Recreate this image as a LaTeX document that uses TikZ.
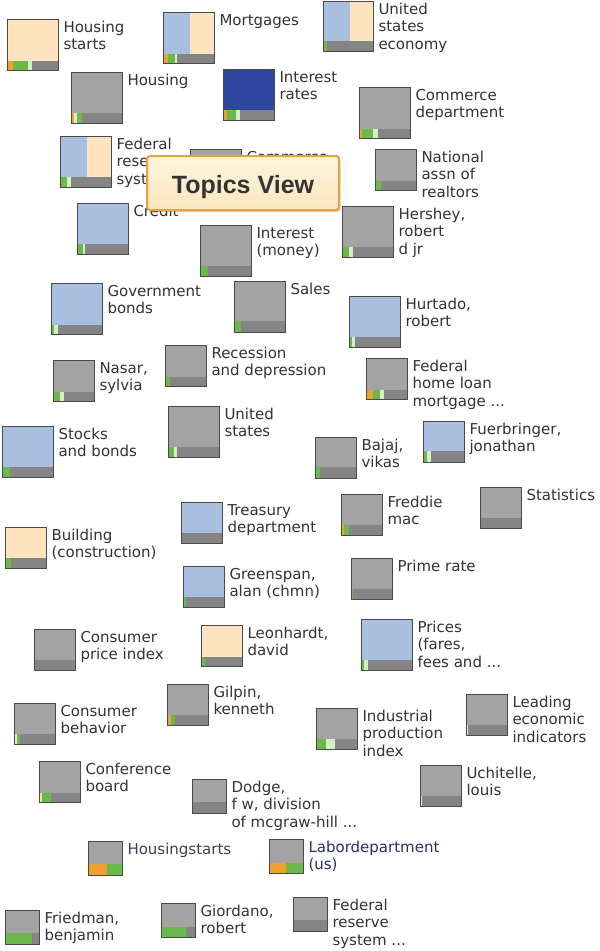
\documentclass[tikz,border=0pt]{standalone}
\usepackage{fontspec}
\setmainfont{DejaVu Sans}
\newfontfamily\tvfont{Liberation Sans}
\usetikzlibrary{shadows}
\definecolor{tgray}{HTML}{A3A3A3}
\definecolor{stripc}{HTML}{858585}
\definecolor{tborder}{HTML}{4A4A4A}
\definecolor{tblue}{HTML}{A9BFE0}
\definecolor{tbeige}{HTML}{FDE4BF}
\definecolor{tdark}{HTML}{2D46A0}
\definecolor{sor}{HTML}{F0A033}
\definecolor{sgr}{HTML}{6CB94B}
\definecolor{slg}{HTML}{D5EEC2}
\definecolor{syl}{HTML}{E9E6A0}
\definecolor{txt}{HTML}{333333}
\definecolor{tvborder}{HTML}{E8A23C}
\definecolor{tvtop}{HTML}{FEF5DE}
\definecolor{tvbot}{HTML}{FBE6BC}
\tikzset{
  tilebox/.style={inner sep=0pt, outer sep=0pt, draw=none},
  tg/.style={fill=tgray},
  tb/.style={fill=tblue},
  tbe/.style={fill=tbeige},
  tdb/.style={fill=tdark},
  tsplit/.style={fill=tblue, path picture={\fill[tbeige] ([xshift=1.5pt]path picture bounding box.north) rectangle (path picture bounding box.south east);}},
  tileborder/.style={draw=tborder, line width=0.9pt},
  lbl/.style={anchor=north west, inner sep=0pt, outer sep=0pt, align=left, text=txt, font=\fontsize{15}{17.5}\selectfont},
  topicsbox/.style={draw=tvborder, line width=2pt, rounded corners=3pt, top color=tvtop, bottom color=tvbot,
    drop shadow={shadow xshift=1.5pt, shadow yshift=-2pt, opacity=0.3, fill=black!60}},
}
% #1 name, #2 left, #3 top, #4 size, #5 fill style, #6 strip height, #7 segments, #8 label
\newcommand\tl[8]{%
  \node[tilebox, minimum size=#4, #5] (#1) at ({#2+#4/2},{#3+#4/2}) {};
  \fill[stripc] (#2,{#3+#4-#6}) rectangle ({#2+#4},{#3+#4});
  \foreach \cl/\w [remember=\xe as \xs (initially #2), evaluate=\w as \xe using \xs+\w] in {#7}
    {\fill[\cl] (\xs,{#3+#4-#6}) rectangle (\xe,{#3+#4});}
  \draw[tileborder] (#1.south west) rectangle (#1.north east);
  \node[lbl] (#1-t) at ([shift={(5.5,1.2)}]#1.north east) {\strut #8};
}
\begin{document}
\begin{tikzpicture}[x=1pt,y=-1pt]
\useasboundingbox[fill=white] (0,0) rectangle (600,951);
\tl{hs}{7}{19}{51}{tbe}{9}{sor/6,sgr/15,slg/4}{Housing\\starts}
\tl{mort}{163}{12}{51}{tsplit}{9}{sor/5,sgr/7,slg/2}{Mortgages}
\tl{use}{323}{1}{50}{tsplit}{10}{sgr/4}{United\\states\\economy}
\tl{hou}{71}{72}{51}{tg}{10}{sor/3,slg/3,sgr/5}{Housing}
\tl{ir}{223}{69}{51}{tdb}{10}{sor/4,sgr/9,slg/4}{Interest\\rates}
\tl{cd}{359}{87}{51}{tg}{9}{sor/3,sgr/11,slg/5}{Commerce\\department}
\tl{frs}{60}{136}{51}{tsplit}{10}{sgr/7,slg/4}{Federal\\reserve\\system}
\tl{com}{190}{149}{51}{tg}{10}{sgr/5}{Commerce}
\tl{nar}{375}{149}{41}{tg}{9}{sgr/6}{National\\assn of\\realtors}
\tl{cr}{77}{203}{51}{tb}{10}{sgr/6,slg/2}{Credit}
\tl{hsh}{342}{206}{51}{tg}{10}{sgr/7,slg/4}{Hershey,\\robert\\d jr}
\tl{im}{200}{225}{51}{tg}{10}{sgr/8}{Interest\\(money)}
\tl{gb}{51}{283}{51}{tb}{9}{sgr/3,slg/4}{Government\\bonds}
\tl{sal}{234}{281}{51}{tg}{11}{sgr/7}{Sales}
\tl{hur}{349}{296}{51}{tb}{10}{sgr/3,slg/3}{Hurtado,\\robert}
\tl{nas}{53}{360}{41}{tg}{9}{sgr/7,slg/4}{Nasar,\\sylvia}
\tl{rec}{165}{345}{41}{tg}{9}{sgr/5}{Recession\\and depression}
\tl{fhl}{366}{358}{41}{tg}{9}{sor/7,sgr/7,slg/4}{Federal\\home loan\\mortgage ...}
\tl{us}{168}{406}{51}{tg}{10}{sgr/6,slg/3}{United\\states}
\tl{sb}{2}{426}{51}{tb}{10}{sgr/8}{Stocks\\and bonds}
\tl{baj}{315}{437}{41}{tg}{11}{sgr/5}{Bajaj,\\vikas}
\tl{fue}{423}{421}{41}{tb}{11}{sgr/4,slg/4}{Fuerbringer,\\jonathan}
\tl{stat}{480}{487}{41}{tg}{10}{stripc/0}{Statistics}
\tl{tre}{181}{502}{41}{tb}{10}{stripc/0}{Treasury\\department}
\tl{fm}{341}{494}{41}{tg}{10}{sor/3,sgr/5}{Freddie\\mac}
\tl{bld}{5}{527}{41}{tbe}{10}{sgr/6}{Building\\(construction)}
\tl{pr}{351}{558}{41}{tg}{10}{sgr/2}{Prime rate}
\tl{grn}{183}{566}{41}{tb}{10}{sgr/3}{Greenspan,\\alan (chmn)}
\tl{cpi}{34}{629}{41}{tg}{10}{stripc/0}{Consumer\\price index}
\tl{leo}{201}{625}{41}{tbe}{9}{sgr/4}{Leonhardt,\\david}
\tl{pri}{361}{619}{51}{tb}{10}{sgr/3,slg/4}{Prices\\(fares,\\fees and ...}
\tl{gil}{167}{684}{41}{tg}{10}{sor/4,sgr/4}{Gilpin,\\kenneth}
\tl{cb}{14}{703}{41}{tg}{10}{slg/3,sgr/3}{Consumer\\behavior}
\tl{ipi}{316}{708}{41}{tg}{10}{sgr/10,slg/9}{Industrial\\production\\index}
\tl{lei}{466}{694}{41}{tg}{10}{slg/2}{Leading\\economic\\indicators}
\tl{conf}{39}{761}{41}{tg}{9}{syl/3,sgr/9}{Conference\\board}
\tl{uch}{420}{765}{41}{tg}{10}{slg/2}{Uchitelle,\\louis}
\tl{dod}{192}{779}{34}{tg}{11}{stripc/0}{Dodge,\\f w, division\\of mcgraw-hill ...}
\tl{hs2}{88}{841}{34}{tg}{11}{sor/19,sgr/15}{\textcolor[HTML]{3C3F55}{Housingstarts}}
\tl{lab}{269}{839}{34}{tg}{10}{sor/17,sgr/17}{\textcolor[HTML]{2A2F6A}{Labordepartment}\\\textcolor[HTML]{2A2F6A}{(us)}}
\tl{fri}{5}{910}{34}{tg}{11}{sgr/27}{Friedman,\\benjamin}
\tl{gio}{161}{903}{34}{tg}{10}{sgr/25}{Giordano,\\robert}
\tl{frs2}{293}{897}{34}{tg}{11}{stripc/0}{Federal\\reserve\\system ...}
\node[topicsbox, minimum width=192pt, minimum height=54pt, text height=20pt, text depth=0pt,
      font=\tvfont\bfseries\fontsize{25}{30}\selectfont, text=txt] (tv) at (243,183) {Topics View};
\end{tikzpicture}
\end{document}
